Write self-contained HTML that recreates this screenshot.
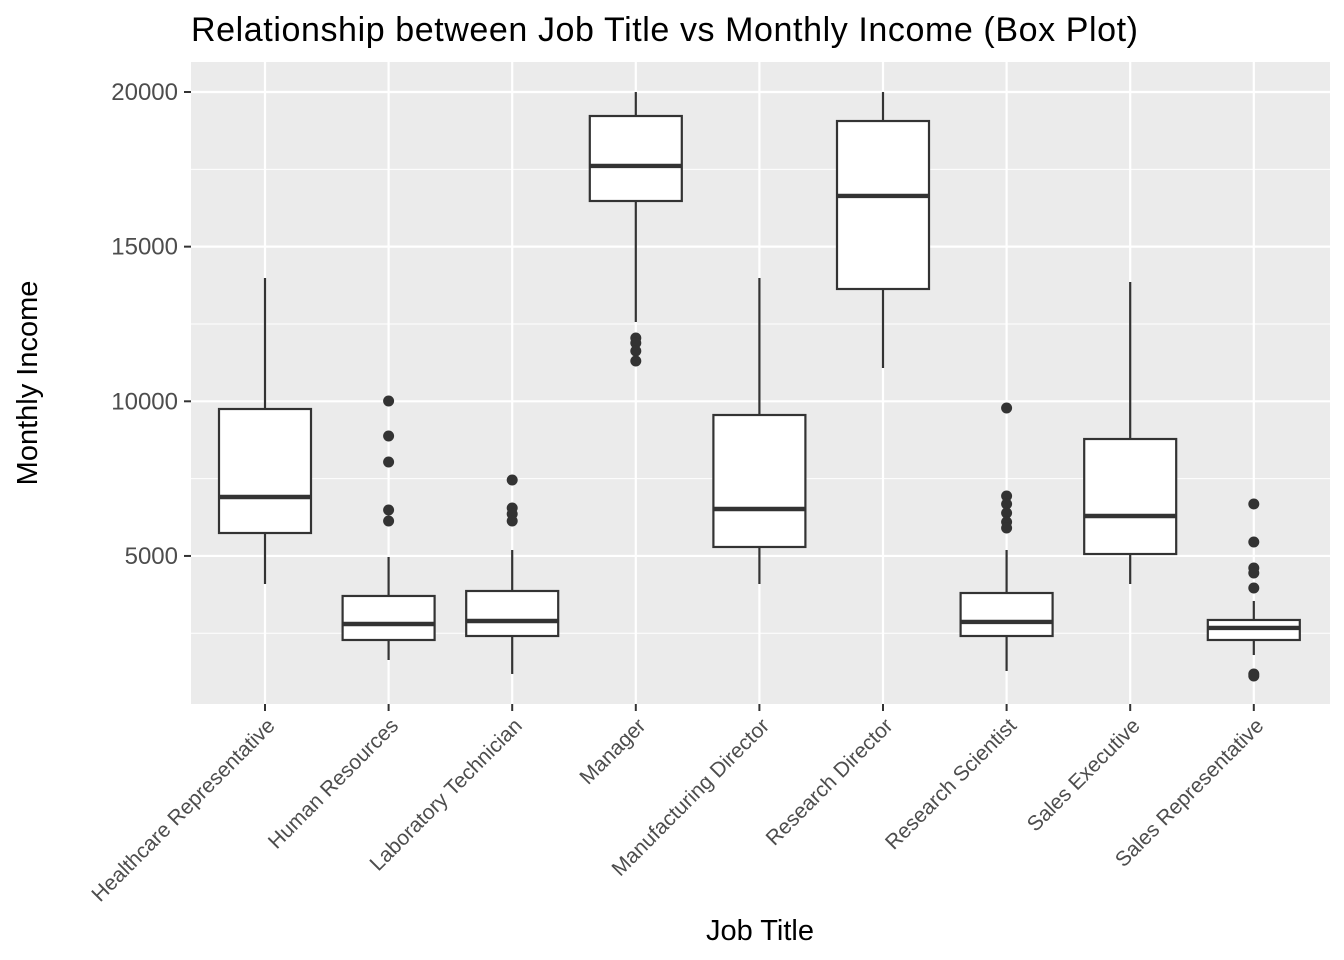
<!DOCTYPE html>
<html><head><meta charset="utf-8"><style>body{margin:0;background:#fff}svg{display:block}text{font-family:"Liberation Sans",Arial,sans-serif}</style></head>
<body>
<svg id="chart" width="1344" height="960" xmlns="http://www.w3.org/2000/svg">
<text x="191" y="41" font-size="34" textLength="947" fill="#000">Relationship between Job Title vs Monthly Income (Box Plot)</text>
<rect x="191" y="62" width="1139" height="642" fill="#EBEBEB"/>
<g id="grid"></g><g id="boxes"></g><g id="axes"></g>
<text x="760" y="940" font-size="29" text-anchor="middle">Job Title</text>
<text transform="translate(37,383) rotate(-90)" font-size="29" text-anchor="middle">Monthly Income</text>
</svg>
<script>
const categories=["Healthcare Representative","Human Resources","Laboratory Technician","Manager","Manufacturing Director","Research Director","Research Scientist","Sales Executive","Sales Representative"];
const lowW=[4093,1636,1184,12564,4093,11077,1280,4093,1797];
const q1=[5742,2283,2412,16476,5290,13631,2412,5063,2283];
const med=[6906,2800,2897,17608,6518,16638,2865,6292,2671];
const q3=[9751,3706,3867,19224,9557,19062,3802,8781,2930];
const highW=[13987,4966,5192,19999,13987,19999,5192,13857,3544];
const outliers=[[],[10010,8878,8037,6486,6130],[7455,6550,6356,6130],[12047,11885,11626,11303],[],[],[9783,6938,6680,6389,6098,5904],[],[6680,5451,4610,4449,3964,1184,1120]];
const yTicks=[5000,10000,15000,20000];
const yMinor=[2500,7500,12500,17500];
const NS="http://www.w3.org/2000/svg";
const y=v=>92+(20000-v)*0.03093;
const x=i=>265+i*123.6;
const bw=92;
function mk(p,t,a){const e=document.createElementNS(NS,t);for(const k in a)e.setAttribute(k,a[k]);p.appendChild(e);return e;}
const g=document.getElementById('grid'),b=document.getElementById('boxes'),ax=document.getElementById('axes');
yMinor.forEach(v=>{const l=mk(g,'line',{x1:191,x2:1330,y1:y(v),y2:y(v),stroke:'#fff','stroke-width':1});

});
yTicks.forEach(v=>{const l=mk(g,'line',{x1:191,x2:1330,y1:y(v),y2:y(v),stroke:'#fff','stroke-width':2.2});


const t=mk(ax,'text',{x:178,y:y(v)+8,'font-size':24,fill:'#4d4d4d','text-anchor':'end'});t.textContent=v;


const tk=mk(ax,'line',{x1:184,x2:191,y1:y(v),y2:y(v),stroke:'#333','stroke-width':2});

});
categories.forEach((c,i)=>{const cx=x(i);
const gl=mk(g,'line',{x1:cx,x2:cx,y1:62,y2:704,stroke:'#fff','stroke-width':2.2});


const grp=mk(b,'g',{});


const st={stroke:'#333','stroke-width':2.2,fill:'none'};
mk(grp,'line',Object.assign({x1:cx,x2:cx,y1:y(highW[i]),y2:y(q3[i])},st));
mk(grp,'line',Object.assign({x1:cx,x2:cx,y1:y(q1[i]),y2:y(lowW[i])},st));
mk(grp,'rect',{x:cx-bw/2,y:y(q3[i]),width:bw,height:y(q1[i])-y(q3[i]),fill:'#fff',stroke:'#333','stroke-width':2.2});
mk(grp,'line',{x1:cx-bw/2,x2:cx+bw/2,y1:y(med[i]),y2:y(med[i]),stroke:'#333','stroke-width':4.4});
outliers[i].forEach(v=>{const d=mk(grp,'circle',{cx:cx,cy:y(v),r:5.5,fill:'#333'});

});
const tk=mk(ax,'line',{x1:cx,x2:cx,y1:704,y2:711,stroke:'#333','stroke-width':2});


const t=mk(ax,'text',{transform:`translate(${cx+11},${727}) rotate(-45)`,'font-size':21,fill:'#4d4d4d','text-anchor':'end'});t.textContent=c;

});
</script>
</body></html>
